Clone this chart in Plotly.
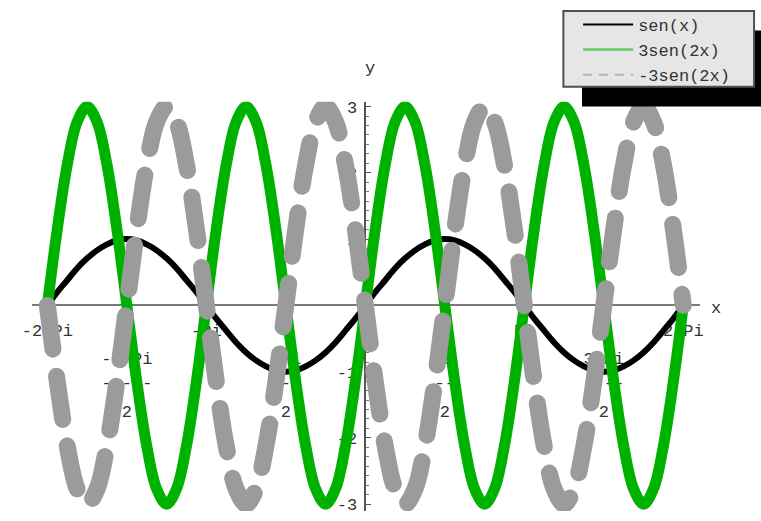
import numpy as np
import plotly.graph_objects as go

# ---------------- data ----------------
series_names = ["sen(x)", "3sen(2x)", "-3sen(2x)"]

# sample positions, in sixteenths of Pi, from -2 Pi to 2 Pi
x_sixteenths_of_pi = list(range(-32, 33))

sen_x = [0, 0.20, 0.38, 0.56, 0.71, 0.83, 0.92, 0.98, 1.00, 0.98, 0.92, 0.83, 0.71, 0.56, 0.38, 0.20,
         0, -0.20, -0.38, -0.56, -0.71, -0.83, -0.92, -0.98, -1.00, -0.98, -0.92, -0.83, -0.71, -0.56, -0.38, -0.20,
         0, 0.20, 0.38, 0.56, 0.71, 0.83, 0.92, 0.98, 1.00, 0.98, 0.92, 0.83, 0.71, 0.56, 0.38, 0.20,
         0, -0.20, -0.38, -0.56, -0.71, -0.83, -0.92, -0.98, -1.00, -0.98, -0.92, -0.83, -0.71, -0.56, -0.38, -0.20,
         0]

three_sen_2x = [0, 1.15, 2.12, 2.77, 3.00, 2.77, 2.12, 1.15, 0, -1.15, -2.12, -2.77, -3.00, -2.77, -2.12, -1.15,
                0, 1.15, 2.12, 2.77, 3.00, 2.77, 2.12, 1.15, 0, -1.15, -2.12, -2.77, -3.00, -2.77, -2.12, -1.15,
                0, 1.15, 2.12, 2.77, 3.00, 2.77, 2.12, 1.15, 0, -1.15, -2.12, -2.77, -3.00, -2.77, -2.12, -1.15,
                0, 1.15, 2.12, 2.77, 3.00, 2.77, 2.12, 1.15, 0, -1.15, -2.12, -2.77, -3.00, -2.77, -2.12, -1.15,
                0]

minus_three_sen_2x = [0, -1.15, -2.12, -2.77, -3.00, -2.77, -2.12, -1.15, 0, 1.15, 2.12, 2.77, 3.00, 2.77, 2.12, 1.15,
                      0, -1.15, -2.12, -2.77, -3.00, -2.77, -2.12, -1.15, 0, 1.15, 2.12, 2.77, 3.00, 2.77, 2.12, 1.15,
                      0, -1.15, -2.12, -2.77, -3.00, -2.77, -2.12, -1.15, 0, 1.15, 2.12, 2.77, 3.00, 2.77, 2.12, 1.15,
                      0, -1.15, -2.12, -2.77, -3.00, -2.77, -2.12, -1.15, 0, 1.15, 2.12, 2.77, 3.00, 2.77, 2.12, 1.15,
                      0]

# x tick labels (multiples of Pi)
x_ticks_whole_pi = [-2, -1, 1, 2]
x_labels_whole = ["-2 Pi", "-Pi", "Pi", "2 Pi"]
x_ticks_half_pi = [-1.5, -0.5, 0.5, 1.5]
x_labels_num = ["-3 Pi", "-Pi", "Pi", "3 Pi"]
x_labels_bar = ["-----", "---", "--", "----"]
x_labels_den = ["2", "2", "2", "2"]

y_tick_vals = [-3, -2, -1, 1, 2, 3]
y_tick_text = ["-3", "-2", "-1", "1", "2", "3"]

# ---------------- geometry ----------------
W, H = 761, 521
PX_L, PX_R = 22, 702        # x-axis line extent
PX_T, PX_B = 100, 515       # y-axis line extent
PX_XA, PX_XB = 38, 685      # -2Pi, 2Pi
PX_Y3, PX_YM3 = 105, 508    # y=3, y=-3

sx = (PX_XB - PX_XA) / (4 * np.pi)
x0px = (PX_XA + PX_XB) / 2
sy = (PX_YM3 - PX_Y3) / 6
y0px = (PX_Y3 + PX_YM3) / 2
x_range = [(PX_L - x0px) / sx, (PX_R - x0px) / sx]
y_range = [-(PX_B - y0px) / sy, (y0px - PX_T) / sy]
x_dom = [PX_L / W, PX_R / W]
y_dom = [1 - PX_B / H, 1 - PX_T / H]
xaxis_pos = 1 - y0px / H
yaxis_pos = x0px / W

MONO = "Liberation Mono"
TXT = "#333333"

x = [k * np.pi / 16 for k in x_sixteenths_of_pi]

fig = go.Figure()
fig.add_trace(go.Scatter(x=x, y=sen_x, mode="lines", line=dict(color="#000000", width=6, shape="spline"),
                         showlegend=False, hoverinfo="skip"))
fig.add_trace(go.Scatter(x=x, y=three_sen_2x, mode="lines", line=dict(color="#00b200", width=11, shape="spline"),
                         showlegend=False, hoverinfo="skip"))
fig.add_trace(go.Scatter(x=x, y=minus_three_sen_2x, mode="lines",
                         line=dict(color="#9b9b9b", width=17, shape="spline", dash="44px,27px"),
                         showlegend=False, hoverinfo="skip"))

# empty traces so the overlaid label axes are drawn
for ax in ["x2", "x3", "x4"]:
    fig.add_trace(go.Scatter(x=[None], y=[None], xaxis=ax, yaxis="y", mode="lines",
                             showlegend=False, hoverinfo="skip"))

# legend entries (thin samples like the original legend)
fig.add_trace(go.Scatter(x=[None], y=[None], mode="lines", name=series_names[0],
                         line=dict(color="#000000", width=2)))
fig.add_trace(go.Scatter(x=[None], y=[None], mode="lines", name=series_names[1],
                         line=dict(color="#66cc66", width=2.5)))
fig.add_trace(go.Scatter(x=[None], y=[None], mode="lines", name=series_names[2],
                         line=dict(color="#b5b5b5", width=2, dash="9px,7px")))

base_std = 9
common_x = dict(range=x_range, domain=x_dom, anchor="free", position=xaxis_pos,
                showgrid=False, zeroline=False, ticks="", layer="below traces",
                tickfont=dict(family=MONO, size=17, color=TXT), fixedrange=True)

fig.update_layout(
    width=W, height=H, margin=dict(l=0, r=0, t=0, b=0),
    paper_bgcolor="white", plot_bgcolor="white",
    xaxis=dict(**common_x, tickvals=[v * np.pi for v in x_ticks_whole_pi], ticktext=x_labels_whole,
               showline=True, linecolor="#7a7a7a", linewidth=2, ticklabelstandoff=base_std),
    xaxis2=dict(**common_x, overlaying="x", showline=False,
                tickvals=[v * np.pi for v in x_ticks_half_pi], ticktext=x_labels_num,
                ticklabelstandoff=base_std + 32),
    xaxis3=dict(**common_x, overlaying="x", showline=False,
                tickvals=[v * np.pi for v in x_ticks_half_pi], ticktext=x_labels_bar,
                ticklabelstandoff=base_std + 56),
    xaxis4=dict(**common_x, overlaying="x", showline=False,
                tickvals=[v * np.pi for v in x_ticks_half_pi], ticktext=x_labels_den,
                ticklabelstandoff=base_std + 85),
    yaxis=dict(range=y_range, domain=y_dom, anchor="free", position=yaxis_pos,
               showgrid=False, zeroline=False, showline=True, linecolor="#555555", linewidth=1.5,
               tickvals=y_tick_vals, ticktext=y_tick_text, ticks="inside", ticklen=5, tickcolor="#555555",
               minor=dict(dtick=1 / 7, ticks="inside", ticklen=3, tickcolor="#777777"),
               tickfont=dict(family=MONO, size=17, color=TXT), layer="below traces",
               ticklabelstandoff=4, fixedrange=True),
    legend=dict(x=578 / W, y=1 - 4 / H, xanchor="left", yanchor="top",
                bgcolor="rgba(0,0,0,0)", borderwidth=0, itemwidth=50,
                font=dict(family=MONO, size=17, color=TXT)),
    shapes=[
        dict(type="rect", xref="paper", yref="paper", x0=582 / W, x1=1.05, y0=1 - 105 / H, y1=1 - 28 / H,
             fillcolor="#000000", line=dict(width=0), layer="above"),
        dict(type="rect", xref="paper", yref="paper", x0=563 / W, x1=757 / W, y0=1 - 85 / H, y1=1 - 8 / H,
             fillcolor="#e6e6e6", line=dict(color="#505050", width=2), layer="above"),
    ],
    annotations=[
        dict(text="x", x=725 / W, y=1 - 310 / H, xref="paper", yref="paper", showarrow=False,
             font=dict(family=MONO, size=17, color=TXT)),
        dict(text="y", x=366 / W, y=1 - 55 / H, xref="paper", yref="paper", showarrow=False,
             font=dict(family=MONO, size=17, color=TXT)),
    ],
)

fig.write_html("out.html", config={"displayModeBar": False}, post_script=(
    "document.body.style.margin='0';document.body.style.overflow='hidden';"
    "document.querySelectorAll('.scatterlayer .js-line').forEach(function(p){"
    "p.style.strokeLinecap='round';p.style.strokeLinejoin='round';});"
))
